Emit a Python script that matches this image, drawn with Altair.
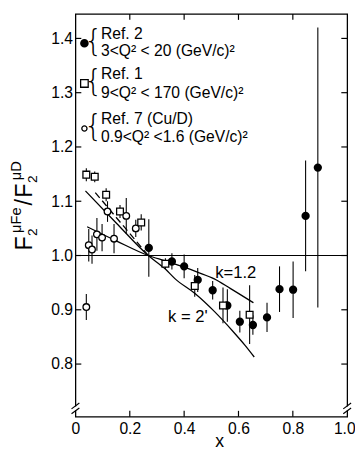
import altair as alt
import pandas as pd

FONT = "Liberation Sans"

# ---------------- data ----------------
ref2_x = [0.27, 0.355, 0.40, 0.45, 0.505, 0.559, 0.605, 0.653, 0.705, 0.751, 0.801, 0.847, 0.892]
ref2_y = [1.014, 0.989, 0.98, 0.955, 0.936, 0.908, 0.878, 0.872, 0.886, 0.938, 0.937, 1.073, 1.162]
ref2_err = [0.053, 0.015, 0.022, 0.022, 0.017, 0.03, 0.02, 0.018, 0.027, 0.042, 0.052, 0.102, 0.258]

ref1_x = [0.04, 0.071, 0.113, 0.164, 0.242, 0.331, 0.439, 0.543, 0.641]
ref1_y = [1.149, 1.145, 1.112, 1.081, 1.061, 0.985, 0.944, 0.908, 0.891]
ref1_err = [0.012, 0.01, 0.012, 0.012, 0.015, 0.01, 0.02, 0.033, 0.054]

ref7_x = [0.04, 0.049, 0.061, 0.079, 0.098, 0.118, 0.142, 0.187, 0.222]
ref7_y = [0.905, 1.019, 1.011, 1.039, 1.033, 1.081, 1.031, 1.073, 1.05]
ref7_err = [0.024, 0.03, 0.026, 0.03, 0.025, 0.019, 0.027, 0.033, 0.016]

k12_x = [0.043, 0.15, 0.268, 0.331, 0.403, 0.451, 0.511, 0.571, 0.655]
k12_y = [1.053, 1.027, 1.0, 0.99, 0.978, 0.969, 0.957, 0.939, 0.913]

k2_x = [0.037, 0.15, 0.268, 0.331, 0.367, 0.44, 0.511, 0.58, 0.625, 0.658]
k2_y = [1.119, 1.06, 1.0, 0.975, 0.957, 0.93, 0.897, 0.86, 0.834, 0.813]

dash_x = [0.073, 0.268]
dash_y = [1.116, 1.0]

x_ticks = [0, 0.2, 0.4, 0.6, 0.8, 1.0]
x_inner_ticks = [0.2, 0.4, 0.6, 0.8]
y_ticks = [0.8, 0.9, 1.0, 1.1, 1.2, 1.3, 1.4]

legend_lines = ["Ref. 2", "3<Q² < 20 (GeV/c)²",
                "Ref. 1", "9<Q²  < 170 (GeV/c)²",
                "Ref. 7  (Cu/D)", "0.9<Q² <1.6 (GeV/c)²"]
legend_line_y = [1.408, 1.377, 1.335, 1.300, 1.252, 1.218]
legend_text_x = 0.094
legend_sym_x = 0.033
legend_sym_y = [1.391, 1.317, 1.234]
brace_x = 0.066
brace_y = [1.392, 1.317, 1.234]

curve_labels = ["k=1.2", "k = 2'"]
curve_label_x = [0.590, 0.414]
curve_label_y = [0.967, 0.887]

# ---------------- scales / axes ----------------
xs = alt.Scale(domain=[0, 1.0], nice=False, zero=False)
ys = alt.Scale(domain=[0.703, 1.445], nice=False, zero=False)

AX = alt.Axis(
    values=x_ticks, ticks=False, domain=False, grid=False,
    labelExpr="datum.value == 0 ? '0' : format(datum.value, '.1f')",
    labelFont=FONT, labelFontSize=16, labelColor="black", labelPadding=4,
    labelFlush=False, labelOverlap=False,
    labelOffset={"condition": {"test": "datum.value >= 1", "value": -3}, "value": 0},
    title="x", titleFont=FONT, titleFontSize=18, titleFontWeight="normal",
    titleColor="black", titleX=147, titleY=31, titleBaseline="alphabetic")
AY = alt.Axis(
    values=y_ticks, ticks=False, domain=False, grid=False,
    labelExpr="format(datum.value, '.1f')",
    labelFont=FONT, labelFontSize=16, labelColor="black", labelPadding=3,
    labelOverlap=False, title=" ")


def X(f):
    return alt.X(f, type="quantitative", scale=xs, axis=AX)


def Y(f):
    return alt.Y(f, type="quantitative", scale=ys, axis=AY)


dummy = pd.DataFrame({"a": [0]})


def seg(x1, y1, x2, y2, color="black", width=1.2):
    return alt.Chart(dummy).mark_rule(color=color, strokeWidth=width).encode(
        x=alt.value(x1), y=alt.value(y1), x2=alt.value(x2), y2=alt.value(y2))


def ytext(txt, x, y, size):
    return alt.Chart(pd.DataFrame({"t": [txt]})).mark_text(
        angle=270, align="left", baseline="alphabetic", font=FONT,
        fontSize=size, color="black").encode(
        text="t:N", x=alt.value(x), y=alt.value(y))


# ---------------- zero line ----------------
zero = alt.Chart(pd.DataFrame({"x": [0.0], "x2": [1.0], "y": [1.0]})).mark_rule(
    color="black", strokeWidth=1.2).encode(x=X("x"), x2="x2:Q", y=Y("y"))

ydf = pd.DataFrame({"v": y_ticks})
xdf = pd.DataFrame({"x": x_inner_ticks})
tick_left = alt.Chart(ydf).mark_rule(color="black", strokeWidth=1.2).encode(
    y=Y("v"), x=alt.value(0), x2=alt.value(6))
tick_right = alt.Chart(ydf).mark_rule(color="black", strokeWidth=1.2).encode(
    y=Y("v"), x=alt.value(272), x2=alt.value(278))
tick_bottom = alt.Chart(xdf).mark_rule(color="black", strokeWidth=1.2).encode(
    x=X("x"), y=alt.value(412), y2=alt.value(406))
tick_top = alt.Chart(xdf).mark_rule(color="black", strokeWidth=1.2).encode(
    x=X("x"), y=alt.value(0), y2=alt.value(6))

# axis breaks
breaks = [
    seg(0, 401.5, 0, 405.5, color="white", width=4),
    seg(-4, 404, 4, 398), seg(-4, 409, 4, 403),
    seg(278, 401.5, 278, 405.5, color="white", width=4),
    seg(274, 404, 282, 398), seg(274, 409, 282, 403),
]

# ---------------- curves ----------------
k12 = alt.Chart(pd.DataFrame({"x": k12_x, "y": k12_y})).mark_line(
    color="black", strokeWidth=1.3, interpolate="monotone").encode(x=X("x"), y=Y("y"))
k2 = alt.Chart(pd.DataFrame({"x": k2_x, "y": k2_y})).mark_line(
    color="black", strokeWidth=1.3, interpolate="monotone").encode(x=X("x"), y=Y("y"))
dash = alt.Chart(pd.DataFrame({"x": dash_x, "y": dash_y})).mark_line(
    color="black", strokeWidth=1.3, strokeDash=[7, 4]).encode(x=X("x"), y=Y("y"))


# ---------------- data series ----------------
def frame(xv, yv, ev):
    return pd.DataFrame({"x": xv, "y": yv,
                         "lo": [a - b for a, b in zip(yv, ev)],
                         "hi": [a + b for a, b in zip(yv, ev)]})


d2, d1, d7 = frame(ref2_x, ref2_y, ref2_err), frame(ref1_x, ref1_y, ref1_err), frame(ref7_x, ref7_y, ref7_err)


def bars(df):
    return alt.Chart(df).mark_rule(color="black", strokeWidth=1.1).encode(
        x=X("x"), y=Y("lo"), y2="hi:Q")


pts2 = alt.Chart(d2).mark_point(shape="circle", filled=True, fill="black",
                                stroke="black", size=42, opacity=1).encode(x=X("x"), y=Y("y"))
pts1 = alt.Chart(d1).mark_point(shape="square", filled=True, fill="white",
                                stroke="black", strokeWidth=1.3, size=48, opacity=1).encode(x=X("x"), y=Y("y"))
pts7 = alt.Chart(d7).mark_point(shape="circle", filled=True, fill="white",
                                stroke="black", strokeWidth=1.3, size=46, opacity=1).encode(x=X("x"), y=Y("y"))

# ---------------- legend ----------------
ltext = alt.Chart(pd.DataFrame({"t": legend_lines, "y": legend_line_y,
                                "x": [legend_text_x] * 6})).mark_text(
    align="left", baseline="middle", font=FONT, fontSize=16, color="black").encode(
    x=X("x"), y=Y("y"), text="t:N")
braces = alt.Chart(pd.DataFrame({"x": [brace_x] * 3, "y": brace_y, "t": ["{"] * 3})).mark_text(
    align="center", baseline="middle", font="DejaVu Sans", fontSize=30,
    fontWeight=200, color="black", dy=-1).encode(x=X("x"), y=Y("y"), text="t:N")
lsym = pd.DataFrame({"x": [legend_sym_x] * 3, "y": legend_sym_y})
lsym2 = alt.Chart(lsym.iloc[[0]]).mark_point(shape="circle", filled=True, fill="black",
                                            stroke="black", size=46, opacity=1).encode(x=X("x"), y=Y("y"))
lsym1 = alt.Chart(lsym.iloc[[1]]).mark_point(shape="square", filled=True, fill="white",
                                            stroke="black", strokeWidth=1.3, size=60, opacity=1).encode(x=X("x"), y=Y("y"))
lsym7 = alt.Chart(lsym.iloc[[2]]).mark_point(shape="circle", filled=True, fill="white",
                                            stroke="black", strokeWidth=1.3, size=28, opacity=1).encode(x=X("x"), y=Y("y"))

klabels = alt.Chart(pd.DataFrame({"t": curve_labels, "x": curve_label_x, "y": curve_label_y})).mark_text(
    align="center", baseline="middle", font=FONT, fontSize=17, color="black").encode(
    x=X("x"), y=Y("y"), text="t:N")

# ---------------- y title (F2^muFe / F2^muD) ----------------
ytitle = [
    ytext("F", -44, 242, 24),
    ytext("2", -39, 227, 14),
    ytext("μFe", -56, 224, 15),
    ytext("/", -44, 196, 24),
    ytext("F", -44, 188, 24),
    ytext("2", -39, 173, 14),
    ytext("μD", -56, 170, 15),
]

chart = alt.layer(
    zero, tick_left, tick_right, tick_bottom, tick_top, *breaks,
    k12, k2, dash,
    bars(d2), bars(d1), bars(d7),
    pts2, pts1, pts7,
    ltext, braces, lsym2, lsym1, lsym7, klabels, *ytitle,
).properties(
    width=278, height=412,
    autosize=alt.AutoSizeParams(type="none"),
    padding={"left": 69, "top": 1, "right": 8, "bottom": 32},
    background="white",
).configure_view(stroke="black", strokeWidth=1.3)

chart.save("out.html", embed_options={"renderer": "svg", "actions": False})
